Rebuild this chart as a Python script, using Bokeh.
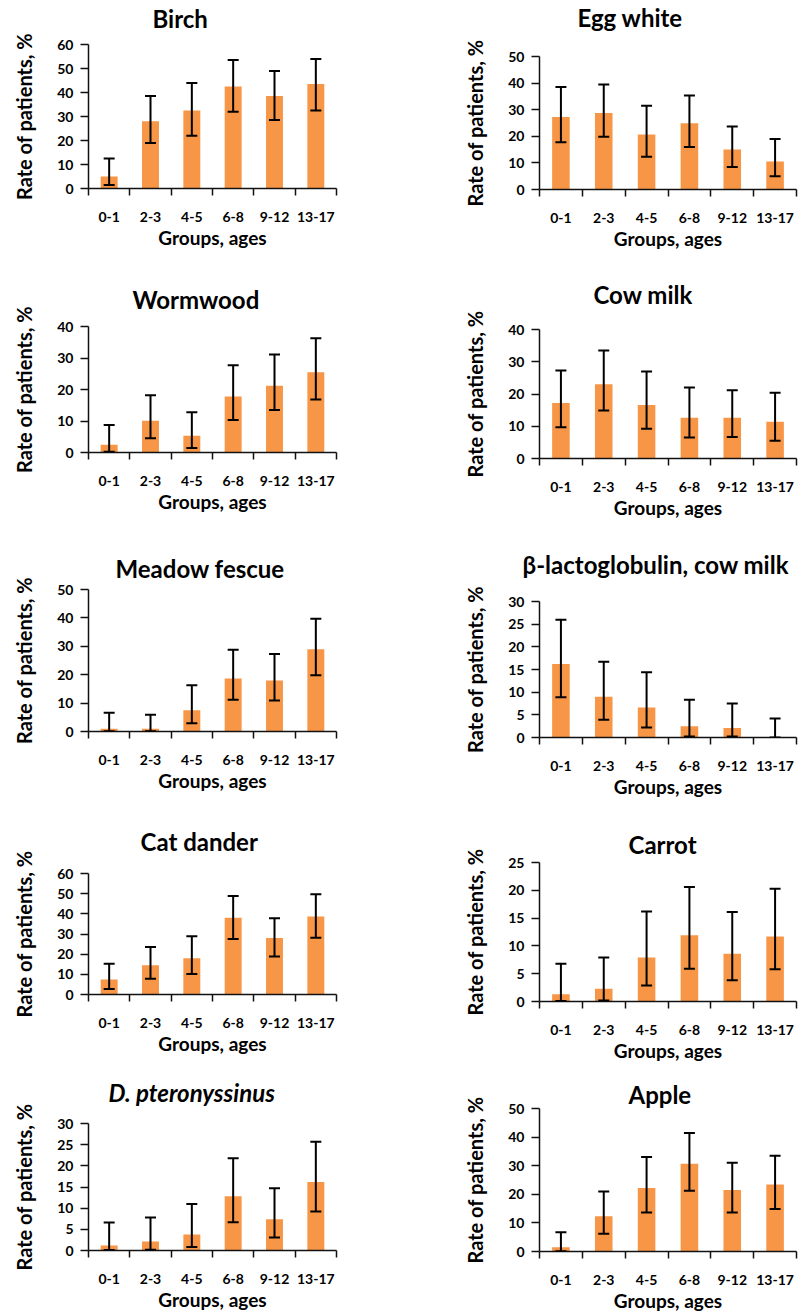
from bokeh.plotting import figure
from bokeh.models import Range1d, FixedTicker, ColumnDataSource, Whisker, TeeHead, Title
from bokeh.layouts import column, row
from bokeh.embed import file_html
from bokeh.resources import INLINE

# ---------------- data ----------------
ages = ["0-1", "2-3", "4-5", "6-8", "9-12", "13-17"]

titles = ["Birch", "Egg white", "Wormwood", "Cow milk", "Meadow fescue",
          "β-lactoglobulin, cow milk", "Cat dander", "Carrot",
          "D. pteronyssinus", "Apple"]

birch = [5.0, 28.0, 32.5, 42.5, 38.5, 43.5]
birch_lo = [1.5, 19.0, 22.0, 32.0, 28.5, 32.5]
birch_hi = [12.5, 38.5, 44.0, 53.5, 49.0, 54.0]

egg_white = [27.3, 28.8, 20.7, 24.9, 15.0, 10.5]
egg_white_lo = [17.8, 19.8, 12.3, 16.0, 8.5, 5.0]
egg_white_hi = [38.5, 39.5, 31.5, 35.3, 23.7, 19.0]

wormwood = [2.5, 10.1, 5.3, 17.8, 21.2, 25.5]
wormwood_lo = [0.2, 4.5, 1.4, 10.3, 13.5, 16.8]
wormwood_hi = [8.7, 18.2, 12.8, 27.7, 31.1, 36.3]

cow_milk = [17.2, 23.0, 16.6, 12.6, 12.6, 11.4]
cow_milk_lo = [9.7, 14.9, 9.2, 6.5, 6.7, 5.5]
cow_milk_hi = [27.3, 33.5, 27.0, 22.0, 21.2, 20.4]

meadow_fescue = [1.0, 1.0, 7.5, 18.7, 18.0, 29.0]
meadow_fescue_lo = [0.1, 0.1, 2.9, 11.2, 10.9, 19.8]
meadow_fescue_hi = [6.6, 5.9, 16.3, 28.8, 27.3, 39.7]

blg = [16.2, 9.0, 6.6, 2.5, 2.1, 0.0]
blg_lo = [8.9, 3.9, 2.2, 0.2, 0.2, 0.0]
blg_hi = [26.0, 16.7, 14.4, 8.3, 7.5, 4.2]

cat_dander = [7.5, 14.5, 18.0, 38.0, 28.0, 38.7]
cat_dander_lo = [2.7, 7.8, 10.2, 27.5, 18.8, 28.2]
cat_dander_hi = [15.3, 23.5, 28.9, 48.8, 37.8, 49.7]

carrot = [1.3, 2.3, 7.9, 11.9, 8.6, 11.7]
carrot_lo = [0.1, 0.2, 2.9, 5.9, 3.8, 5.8]
carrot_hi = [6.8, 7.9, 16.2, 20.6, 16.1, 20.3]

dpter = [1.2, 2.1, 3.8, 12.8, 7.4, 16.2]
dpter_lo = [0.1, 0.2, 0.8, 6.7, 3.1, 9.2]
dpter_hi = [6.6, 7.8, 11.0, 21.8, 14.7, 25.7]

apple = [1.5, 12.3, 22.2, 30.7, 21.5, 23.4]
apple_lo = [0.1, 6.2, 13.6, 21.2, 13.6, 14.9]
apple_hi = [6.7, 21.0, 33.0, 41.4, 31.0, 33.5]

y_max = [60, 50, 40, 40, 50, 30, 60, 25, 30, 50]
y_step = [10, 10, 10, 10, 10, 5, 10, 5, 5, 10]

series = [(birch, birch_lo, birch_hi), (egg_white, egg_white_lo, egg_white_hi),
          (wormwood, wormwood_lo, wormwood_hi), (cow_milk, cow_milk_lo, cow_milk_hi),
          (meadow_fescue, meadow_fescue_lo, meadow_fescue_hi), (blg, blg_lo, blg_hi),
          (cat_dander, cat_dander_lo, cat_dander_hi), (carrot, carrot_lo, carrot_hi),
          (dpter, dpter_lo, dpter_hi), (apple, apple_lo, apple_hi)]

# ---------------- layout (page coordinates) ----------------
col_x = [(0, 400), (400, 799)]
col_frame_x = [(88, 336), (539, 796)]
fig_y = [[(0, 262), (262, 535), (535, 800), (800, 1060), (1060, 1314)],
         [(0, 262), (262, 540), (540, 800), (800, 1066), (1066, 1314)]]
# frame top / bottom for each panel
frame_y = [(44, 188), (56, 189), (326, 452), (329, 458), (589, 731),
           (601, 739), (873, 994), (862, 1001), (1123, 1250), (1108, 1254)]
# title: left edge and baseline (page coordinates)
title_left = [152, 577, 132, 593, 115, 522, 140, 628, 108, 628]
title_base = [27, 26, 308, 303, 577, 573, 850, 853, 1101, 1104]
DESC = 5          # text box bottom below baseline

FONT = "Lato"
BAR = "#F79646"
INK = "#111111"


def make_panel(i):
    vals, lo, hi = series[i]
    r, c = divmod(i, 2)
    x0, x1 = col_x[c]
    fl, fr = col_frame_x[c]
    y0, y1 = fig_y[c][r]
    ft, fb = frame_y[i]
    xc = [k + 0.5 for k in range(len(ages))]
    p = figure(width=x1 - x0, height=y1 - y0,
               x_range=Range1d(0, len(ages)), y_range=Range1d(0, y_max[i]),
               output_backend="svg", toolbar_location=None,
               min_border_left=fl - x0, min_border_right=x1 - fr,
               min_border_top=ft - y0, min_border_bottom=y1 - fb)
    p.outline_line_color = None
    p.xgrid.visible = False
    p.ygrid.visible = False
    p.background_fill_color = "white"
    p.border_fill_color = "white"
    p.title.visible = False

    src = ColumnDataSource(dict(x=xc, v=vals, lo=lo, hi=hi))
    p.vbar(x="x", top="v", bottom=0, width=0.41, source=src,
           fill_color=BAR, line_color=None)
    p.add_layout(Whisker(source=src, base="x", upper="hi", lower="lo",
                         line_color="black", line_width=2, level="annotation",
                         upper_head=TeeHead(size=11, line_width=2, line_color="black"),
                         lower_head=TeeHead(size=11, line_width=2, line_color="black")))

    # title: an empty spacer next to the frame, then the real title above it
    gap = ft - (title_base[i] + DESC)
    if gap >= 3:
        p.add_layout(Title(text=" ", text_font_size="1px", standoff=gap - 3), "above")
    p.add_layout(Title(text=titles[i], text_font=FONT, text_font_size="24px",
                       text_font_style="bold italic" if i == 8 else "bold",
                       text_color="black", align="left",
                       offset=title_left[i] - fl, standoff=0), "above")

    # x axis
    xa = p.xaxis[0]
    xa.ticker = FixedTicker(ticks=xc, minor_ticks=list(range(len(ages) + 1)))
    xa.major_label_overrides = {x: a for x, a in zip(xc, ages)}
    xa.major_tick_line_color = None
    xa.major_tick_out = 7
    xa.major_tick_in = 0
    xa.minor_tick_line_color = INK
    xa.minor_tick_line_width = 1.5
    xa.minor_tick_out = 7
    xa.minor_tick_in = 0
    xa.axis_line_color = INK
    xa.axis_line_width = 1.5
    xa.major_label_text_font = FONT
    xa.major_label_text_font_size = "14px"
    xa.major_label_text_font_style = "bold"
    xa.major_label_text_color = "black"
    xa.major_label_standoff = 16
    xa.axis_label = "Groups, ages"
    xa.axis_label_text_font = FONT
    xa.axis_label_text_font_size = "19px"
    xa.axis_label_text_font_style = "bold"
    xa.axis_label_text_color = "black"
    xa.axis_label_standoff = 1

    # y axis
    ya = p.yaxis[0]
    ya.ticker = FixedTicker(ticks=list(range(0, y_max[i] + 1, y_step[i])))
    ya.minor_tick_line_color = None
    ya.major_tick_out = 8
    ya.major_tick_in = 0
    ya.major_tick_line_color = INK
    ya.major_tick_line_width = 1.5
    ya.axis_line_color = INK
    ya.axis_line_width = 1.5
    ya.major_label_text_font = FONT
    ya.major_label_text_font_size = "14px"
    ya.major_label_text_font_style = "bold"
    ya.major_label_text_color = "black"
    ya.major_label_standoff = 7
    ya.axis_label = "Rate of patients, %"
    ya.axis_label_text_font = FONT
    ya.axis_label_text_font_size = "20px"
    ya.axis_label_text_font_style = "bold"
    ya.axis_label_text_color = "black"
    ya.axis_label_standoff = 18
    return p


panels = [make_panel(i) for i in range(len(titles))]
layout = row(column(*panels[0::2]), column(*panels[1::2]))

open("out.html", "w").write(file_html(layout, INLINE))
